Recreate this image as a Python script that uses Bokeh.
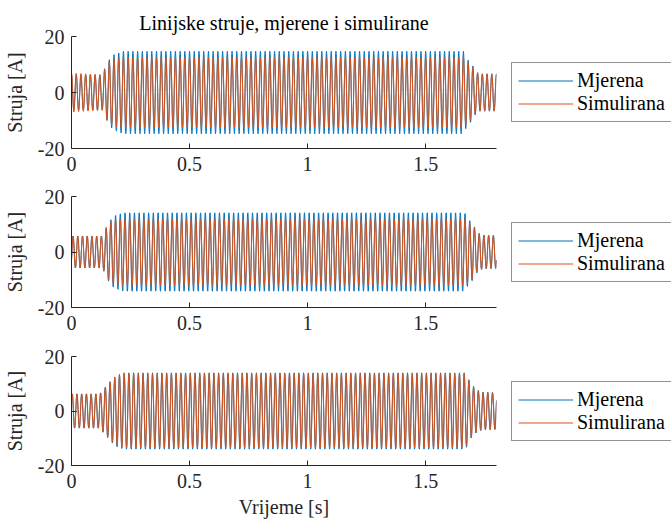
import numpy as np
from bokeh.plotting import figure
from bokeh.layouts import column, row
from bokeh.models import Legend, LegendItem, FixedTicker, Range1d
from bokeh.embed import file_html
from bokeh.resources import INLINE

# ---- data ----
title_text = "Linijske struje, mjerene i simulirane"
y_label = "Struja [A]"
x_label = "Vrijeme [s]"
series_names = ["Mjerena", "Simulirana"]
x_ticks = [0, 0.5, 1, 1.5]
x_tick_labels = ["0", "0.5", "1", "1.5"]
y_ticks = [-20, 0, 20]
y_tick_labels = ["-20", "0", "20"]

freq_hz = 50.0
t_end = 1.8
sample_rate = 1000.0

# envelope keypoints (time [s], amplitude [A]) per subplot
env1_t = [0.0, 0.136, 0.14, 0.15, 0.16, 0.18, 0.22, 1.66, 1.675, 1.695, 1.715, 1.73, 1.8]
env1_mj = [6.3, 6.3, 8.5, 10.0, 11.7, 13.5, 14.7, 14.7, 12.0, 10.2, 7.3, 6.7, 6.7]
env1_si = [7.0, 6.3, 8.3, 9.5, 10.8, 12.0, 12.5, 12.5, 11.0, 9.5, 7.0, 6.5, 6.5]
phase1 = 90.0

env2_t = [0.0, 0.13, 0.14, 0.15, 0.16, 0.18, 0.22, 1.665, 1.68, 1.70, 1.72, 1.74, 1.8]
env2_mj = [5.8, 5.8, 7.5, 9.5, 11.0, 13.0, 14.2, 14.2, 12.0, 10.1, 7.1, 6.2, 6.0]
env2_si = [5.8, 5.8, 7.3, 9.0, 10.3, 11.5, 12.0, 12.0, 11.0, 9.5, 6.8, 6.0, 5.8]
phase2 = -30.0

env3_t = [0.0, 0.12, 0.13, 0.15, 0.17, 0.19, 0.22, 1.669, 1.69, 1.715, 1.74, 1.8]
env3_mj = [6.3, 6.3, 7.5, 9.5, 11.5, 13.0, 14.0, 14.0, 10.2, 7.9, 6.9, 6.8]
env3_si = [6.3, 6.3, 7.4, 9.3, 11.3, 12.7, 13.6, 13.6, 10.0, 7.7, 6.8, 6.7]
phase3 = 30.0

blue = "#0072BD"
orange = "#D95319"
axis_col = "#262626"
FONT = "Liberation Serif"
FS = "20px"

t = np.arange(0, t_end + 1e-9, 1.0 / sample_rate)


def wave(env_t, env_a, phase_deg, shift_deg=0.0):
    amp = np.interp(t, env_t, env_a)
    return amp * np.sin(2 * np.pi * freq_hz * t + np.deg2rad(phase_deg + shift_deg))


def make_fig(height, top, bottom, env_t, env_mj, env_si, phase, title=None, xlab=None, blue_shift=0.0):
    p = figure(width=511, height=height, output_backend="svg", toolbar_location=None,
               min_border_left=71, min_border_right=15, min_border_top=top, min_border_bottom=bottom,
               x_range=Range1d(0, 1.8), y_range=Range1d(-20, 20))
    p.outline_line_color = None
    p.grid.visible = False
    p.background_fill_color = "white"
    p.border_fill_color = "white"
    if title:
        p.title.text = title
        p.title.align = "center"
        p.title.vertical_align = "top"
        p.title.text_font = FONT
        p.title.text_font_size = FS
        p.title.text_font_style = "normal"
        p.title.text_color = "black"
        p.title.standoff = 2
    p.line(t, wave(env_t, env_mj, phase, blue_shift), line_color=blue, line_width=1)
    p.line(t, wave(env_t, env_si, phase), line_color=orange, line_width=1)
    for ax in (p.xaxis[0], p.yaxis[0]):
        ax.axis_line_color = axis_col
        ax.major_tick_line_color = axis_col
        ax.major_tick_in = 5
        ax.major_tick_out = 0
        ax.minor_tick_line_color = None
        ax.major_label_text_font = FONT
        ax.major_label_text_font_size = FS
        ax.major_label_text_color = axis_col
        ax.axis_label_text_font = FONT
        ax.axis_label_text_font_size = FS
        ax.axis_label_text_font_style = "normal"
        ax.axis_label_text_color = axis_col
    p.xaxis.ticker = FixedTicker(ticks=x_ticks)
    p.xaxis.major_label_overrides = dict(zip(x_ticks, x_tick_labels))
    p.yaxis.ticker = FixedTicker(ticks=y_ticks)
    p.yaxis.major_label_overrides = dict(zip(y_ticks, y_tick_labels))
    p.xaxis.major_label_standoff = 8
    p.yaxis.major_label_standoff = 7
    p.yaxis.axis_label = y_label
    p.yaxis.axis_label_standoff = 9
    if xlab:
        p.xaxis.axis_label = xlab
        p.xaxis.axis_label_standoff = 5

    # legend panel (separate small figure aligned with the plot frame)
    lg = figure(width=160, height=height, output_backend="svg", toolbar_location=None,
                min_border_left=0, min_border_right=0, min_border_top=top, min_border_bottom=bottom,
                x_range=Range1d(0, 1), y_range=Range1d(0, 1))
    lg.outline_line_color = None
    lg.grid.visible = False
    lg.axis.visible = False
    lg.background_fill_color = "white"
    lg.border_fill_color = "white"
    r1 = lg.line([np.nan], [np.nan], line_color=blue, line_width=1)
    r2 = lg.line([np.nan], [np.nan], line_color=orange, line_width=1)
    leg = Legend(items=[LegendItem(label=series_names[0], renderers=[r1]),
                        LegendItem(label=series_names[1], renderers=[r2])],
                 location="left", orientation="vertical")
    leg.label_text_font = FONT
    leg.label_text_font_size = FS
    leg.label_text_color = "black"
    leg.glyph_width = 55
    leg.glyph_height = 21
    leg.label_height = 21
    leg.label_standoff = 4
    leg.spacing = 0
    leg.padding = 6
    leg.margin = 0
    leg.border_line_color = axis_col
    leg.border_line_width = 1
    leg.background_fill_alpha = 1
    lg.add_layout(leg, "center")
    return row(p, lg, spacing=0)


p1 = make_fig(180, 36, 32, env1_t, env1_mj, env1_si, phase1, title=title_text)
p2 = make_fig(159, 16, 32, env2_t, env2_mj, env2_si, phase2)
p3 = make_fig(183, 17, 57, env3_t, env3_mj, env3_si, phase3, xlab=x_label, blue_shift=6.0)

layout = column(p1, p2, p3, spacing=0)
open("out.html", "w").write(file_html(layout, INLINE))
